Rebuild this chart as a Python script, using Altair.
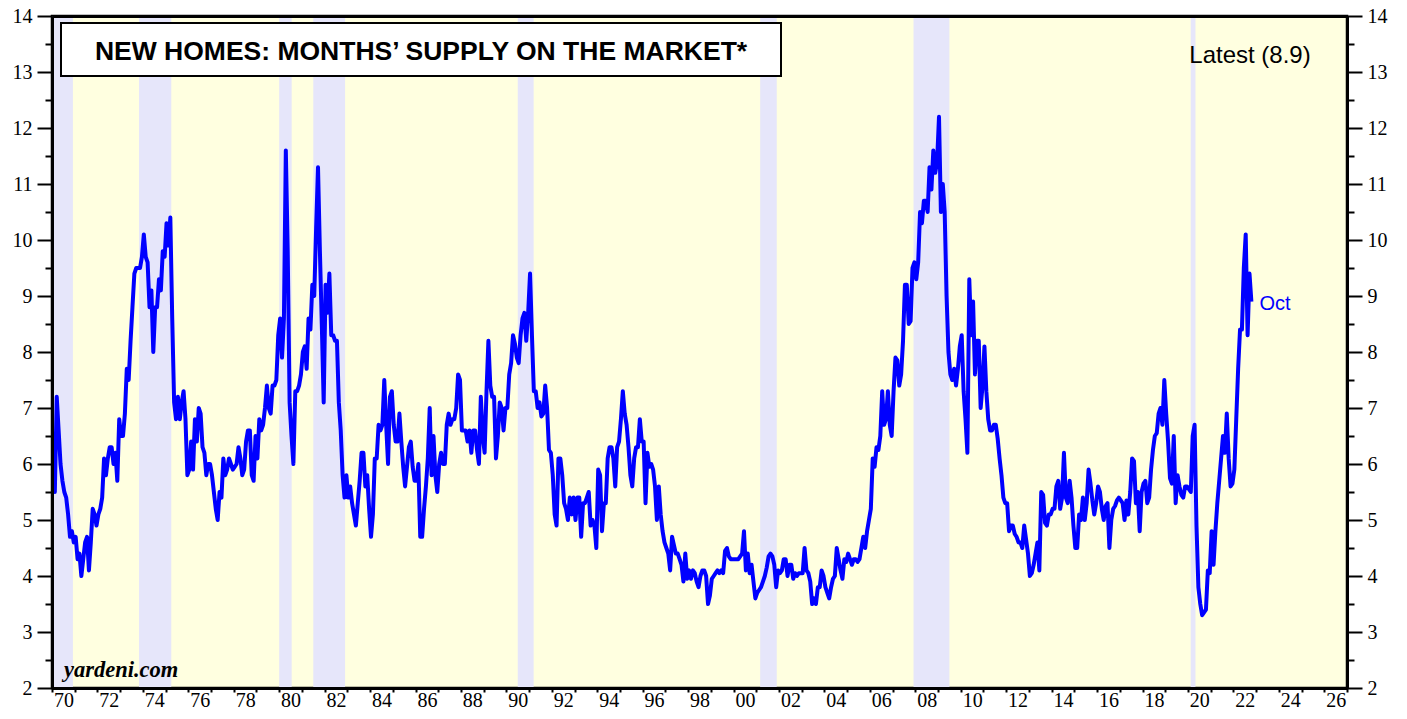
import altair as alt
import pandas as pd

# New homes: months' supply on the market, monthly, Jan 1970 ... Oct 2022
supply_1970s = [
    6.1, 5.5, 7.2, 6.6, 6.0, 5.7, 5.5, 5.4, 5.1, 4.7, 4.8, 4.6,
    4.7, 4.3, 4.4, 4.0, 4.3, 4.6, 4.7, 4.1, 4.6, 5.2, 5.1, 4.9,
    5.1, 5.2, 5.4, 6.1, 5.8, 6.1, 6.3, 6.3, 6.0, 6.2, 5.7, 6.8,
    6.5, 6.5, 6.9, 7.7, 7.5, 8.2, 8.8, 9.4, 9.5, 9.5, 9.5, 9.7,
    10.1, 9.7, 9.6, 8.8, 9.1, 8.0, 8.8, 8.8, 9.3, 9.1, 9.8, 9.7,
    10.3, 9.9, 10.4, 8.6, 7.1, 6.8, 7.2, 6.8, 7.1, 7.3, 6.8, 5.8,
    5.9, 6.4, 5.9, 6.8, 6.4, 7.0, 6.9, 6.3, 6.2, 5.8, 6.0, 6.0,
    5.8, 5.5, 5.2, 5.0, 5.5, 5.4, 6.1, 5.8, 5.9, 6.1, 6.0, 5.9,
    5.95, 6.0, 6.3, 6.1, 5.8, 5.9, 6.4, 6.6, 6.6, 5.8, 5.7, 6.5,
    6.1, 6.8, 6.6, 6.7, 7.0, 7.4, 7.0, 6.9, 7.4, 7.4, 7.5, 8.3,
]
supply_1980s = [
    8.6, 7.9, 8.6, 11.6, 9.8, 7.1, 6.5, 6.0, 7.3, 7.3, 7.4, 7.6,
    8.0, 8.1, 7.7, 8.6, 8.4, 9.2, 9.0, 10.2, 11.3, 9.8, 8.5, 7.1,
    9.2, 8.7, 9.4, 8.3, 8.3, 8.2, 8.2, 7.1, 6.6, 5.8, 5.4, 5.8,
    5.4, 5.6, 5.3, 5.1, 4.9, 5.3, 5.7, 6.2, 6.2, 5.6, 5.8, 5.2,
    4.7, 5.1, 6.1, 6.1, 6.7, 6.6, 6.7, 7.5, 6.7, 6.0, 7.2, 7.3,
    6.7, 6.4, 6.4, 6.9, 6.4, 5.95, 5.6, 5.95, 6.3, 6.4, 5.95, 5.7,
    5.7, 6.0, 4.7, 4.7, 5.2, 5.6, 6.1, 7.0, 5.8, 6.5, 5.8, 5.5,
    6.0, 6.2, 6.0, 6.0, 6.7, 6.9, 6.7, 6.8, 6.8, 7.0, 7.6, 7.5,
    6.6, 6.6, 6.6, 6.4, 6.6, 6.2, 6.6, 6.6, 6.25, 6.0, 7.2, 6.5,
    6.2, 7.3, 8.2, 7.4, 7.2, 7.2, 6.1, 6.5, 7.1, 7.0, 6.6, 7.0,
]
supply_1990s = [
    7.0, 7.6, 7.8, 8.3, 8.15, 7.9, 7.8, 8.3, 8.6, 8.7, 8.2, 8.7,
    9.4, 8.3, 7.3, 7.3, 7.0, 7.1, 6.85, 6.9, 7.4, 7.0, 6.25, 6.2,
    5.8, 5.1, 4.9, 6.1, 6.1, 5.8, 5.3, 5.2, 5.0, 5.4, 5.1, 5.4,
    5.0, 5.4, 5.4, 4.7, 5.3, 5.3, 5.4, 5.5, 4.9, 5.0, 4.9, 4.5,
    5.9, 5.8, 4.8, 5.3, 5.3, 6.1, 6.3, 6.3, 6.1, 5.6, 6.3, 6.4,
    6.8, 7.3, 6.9, 6.7, 6.3, 5.8, 5.6, 6.1, 6.3, 6.3, 6.8, 6.4,
    6.4, 5.3, 6.2, 5.95, 6.0, 5.9, 5.6, 5.0, 5.6, 5.1, 4.8, 4.6,
    4.5, 4.4, 4.1, 4.7, 4.55, 4.4, 4.4, 4.3, 4.2, 3.9, 4.4, 3.95,
    4.1, 3.95, 4.1, 4.05, 3.9, 3.8, 4.0, 4.1, 4.1, 4.0, 3.5, 3.65,
    3.95, 4.0, 4.05, 4.1, 4.05, 4.1, 4.05, 4.45, 4.5, 4.35, 4.3, 4.3,
]
supply_2000s = [
    4.3, 4.3, 4.3, 4.35, 4.4, 4.8, 4.1, 4.4, 4.05, 4.2, 3.9, 3.6,
    3.7, 3.75, 3.8, 3.9, 4.0, 4.15, 4.35, 4.4, 4.35, 4.2, 3.8, 4.1,
    4.05, 4.1, 4.3, 4.3, 4.0, 4.2, 4.2, 3.95, 4.05, 4.0, 4.05, 4.05,
    4.05, 4.5, 4.1, 4.05, 3.9, 3.5, 3.6, 3.5, 3.8, 3.8, 4.1, 4.0,
    3.8, 3.7, 3.6, 3.8, 3.95, 4.0, 4.5, 4.3, 4.1, 3.95, 4.3, 4.25,
    4.4, 4.3, 4.2, 4.3, 4.3, 4.25, 4.3, 4.5, 4.7, 4.5, 4.8, 5.0,
    5.2, 6.1, 5.95, 6.3, 6.25, 6.5, 7.3, 6.7, 6.8, 7.3, 6.7, 6.5,
    7.3, 7.9, 7.85, 7.4, 7.6, 8.2, 9.2, 9.2, 8.5, 8.55, 9.5, 9.6,
    9.3, 9.6, 10.5, 10.3, 10.7, 10.7, 10.5, 11.3, 10.9, 11.6, 11.2, 11.4,
    12.2, 10.5, 11.0, 10.5, 9.0, 8.0, 7.6, 7.5, 7.7, 7.4, 7.7, 8.1,
]
supply_2010s = [
    8.3, 7.3, 6.8, 6.2, 9.3, 8.3, 8.9, 7.6, 8.2, 8.2, 7.0, 7.4,
    8.1, 7.3, 6.8, 6.6, 6.6, 6.7, 6.7, 6.45, 6.1, 5.8, 5.4, 5.3,
    5.3, 4.8, 4.9, 4.9, 4.75, 4.7, 4.6, 4.6, 4.5, 4.9, 4.65, 4.4,
    4.0, 4.05, 4.2, 4.4, 4.6, 4.1, 5.5, 5.45, 4.95, 4.9, 5.1, 5.1,
    5.2, 5.2, 5.6, 5.7, 5.2, 5.4, 6.2, 5.4, 5.3, 5.7, 5.4, 4.9,
    4.5, 4.5, 5.1, 5.0, 5.4, 5.0, 5.3, 5.9, 5.65, 5.35, 5.1, 5.3,
    5.6, 5.5, 5.2, 5.0, 5.25, 5.3, 4.5, 5.0, 5.2, 5.25, 5.35, 5.4,
    5.35, 5.3, 5.0, 5.35, 5.1, 5.5, 6.1, 6.05, 5.3, 5.5, 4.8, 5.5,
    5.65, 5.7, 5.3, 5.4, 5.9, 6.25, 6.5, 6.55, 6.9, 7.0, 6.7, 7.5,
    6.9, 6.4, 5.75, 5.65, 6.5, 5.3, 5.8, 5.6, 5.45, 5.4, 5.6, 5.6,
]
supply_2020s = [
    5.55, 5.5, 6.5, 6.7, 4.9, 3.8, 3.5, 3.3, 3.35, 3.4, 4.1, 4.05,
    4.8, 4.2, 4.8, 5.3, 5.7, 6.1, 6.5, 6.2, 6.9, 6.1, 5.6, 5.65,
    5.9, 6.8, 7.7, 8.4, 8.4, 9.5, 10.1, 8.3, 9.4, 8.9,
]

# Recessions (decimal years)
rec_start = [1969.92, 1973.83, 1980.0, 1981.5, 1990.5, 2001.17, 2007.92, 2020.12]
rec_end = [1970.92, 1975.25, 1980.55, 1982.9, 1991.2, 2001.9, 2009.5, 2020.33]

title_text = "NEW HOMES: MONTHS\u2019 SUPPLY ON THE MARKET*"
latest_text = "Latest (8.9)"
last_label = "Oct"
credit_text = "yardeni.com"

x_ticks = list(range(1970, 2028))
y_major = list(range(2, 15))
y_minor = [v + 0.5 for v in range(2, 14)]

values = supply_1970s + supply_1980s + supply_1990s + supply_2000s + supply_2010s + supply_2020s
df = pd.DataFrame({"t": [1970 + (i + 0.5) / 12 for i in range(len(values))], "v": values})
last = df.tail(1).assign(label=last_label)

W, H = 1295, 672
BLUE = "#0000FF"

xs = alt.Scale(domain=[1970, 2027], nice=False, zero=False)
ys = alt.Scale(domain=[2, 14], nice=False, zero=False)

x_axis = alt.Axis(
    orient="bottom", values=x_ticks, tickSize=4, labelPadding=-2,
    labelExpr="datum.value % 2 == 0 && datum.value < 2027 ? format(datum.value % 100, '02d') : ''",
    labelOffset=11.4, labelOverlap=False, labelFlush=False, grid=False, title=None, zindex=2,
)
x_top = alt.Axis(orient="top", ticks=False, labels=False, grid=False, title=None, zindex=2)

def y_axis(orient, vals, size, labels):
    return alt.Axis(
        orient=orient, values=vals, tickSize=size, labels=labels, labelPadding=5,
        format="d", grid=False, title=None, zindex=2,
    )

bands = alt.Chart(pd.DataFrame({"s": rec_start, "e": rec_end})).mark_rect(
    color="#E6E6FA", clip=True
).encode(x=alt.X("s:Q", scale=xs, axis=None), x2="e:Q")

line = alt.Chart(df).mark_line(color=BLUE, strokeWidth=4, strokeJoin="round").encode(
    x=alt.X("t:Q", scale=xs, axis=x_axis),
    y=alt.Y("v:Q", scale=ys, axis=y_axis("left", y_major, 15, True)),
)

def ghost(xaxis, yaxis):
    return alt.Chart(df).mark_point(opacity=0, size=1).encode(
        x=alt.X("t:Q", scale=xs, axis=xaxis),
        y=alt.Y("v:Q", scale=ys, axis=yaxis),
    )

left_minor = ghost(None, y_axis("left", y_minor, 7, False))
right_major = ghost(None, y_axis("right", y_major, 15, True))
right_minor = ghost(x_top, y_axis("right", y_minor, 7, False))

box = alt.Chart(pd.DataFrame({"label": [title_text]})).mark_rect(
    fill="white", stroke="black", strokeWidth=2
).encode(x=alt.value(9), x2=alt.value(729), y=alt.value(7), y2=alt.value(60))

title = alt.Chart(pd.DataFrame({"label": [title_text]})).mark_text(
    font="Liberation Sans", fontWeight="bold", fontSize=26.5, align="center",
    baseline="alphabetic", color="black"
).encode(x=alt.value(369), y=alt.value(43.5), text="label:N")

latest = alt.Chart(pd.DataFrame({"label": [latest_text]})).mark_text(
    font="Liberation Sans", fontSize=24, align="center", baseline="alphabetic", color="black"
).encode(x=alt.value(1198), y=alt.value(47), text="label:N")

oct_label = alt.Chart(last).mark_text(
    font="Liberation Sans", fontSize=20, align="left", baseline="alphabetic",
    dx=8, dy=8, color=BLUE
).encode(x=alt.X("t:Q", scale=xs, axis=None), y=alt.Y("v:Q", scale=ys, axis=None), text="label:N")

credit = alt.Chart(pd.DataFrame({"label": [credit_text]})).mark_text(
    font="Liberation Serif", fontStyle="italic", fontWeight="bold", fontSize=22.5,
    align="left", baseline="alphabetic", color="black"
).encode(x=alt.value(12), y=alt.value(661), text="label:N")

chart = alt.layer(
    bands, line, left_minor, right_major, right_minor, box, title, latest, oct_label, credit
).resolve_scale(x="shared", y="shared").resolve_axis(x="independent", y="independent").properties(
    width=W, height=H,
    autosize=alt.AutoSizeParams(type="none"),
    padding={"left": 44, "top": 8, "right": 44, "bottom": 22},
).configure_view(
    stroke="black", strokeWidth=2.5, fill="#FFFFE0"
).configure_axis(
    domainColor="black", domainWidth=3, tickColor="black", tickWidth=2,
    labelFont="Liberation Serif", labelFontSize=20, labelColor="black",
)

chart.save("out.html", embed_options={"renderer": "svg", "actions": False})
